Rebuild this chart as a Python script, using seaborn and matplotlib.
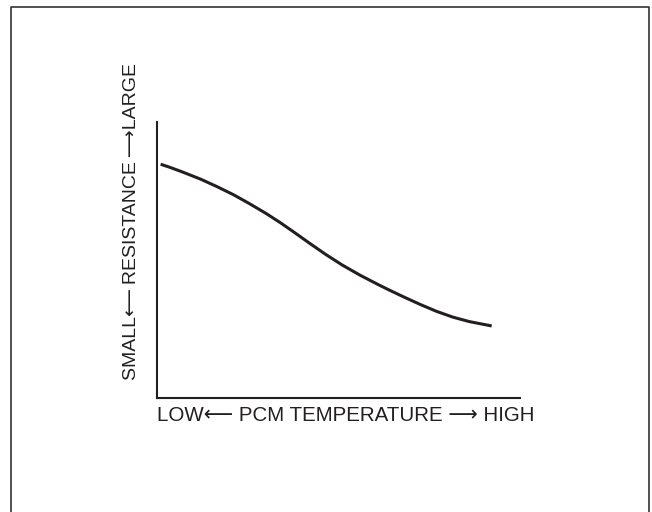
import matplotlib
matplotlib.use("Agg")
import matplotlib.pyplot as plt
from matplotlib.lines import Line2D
import seaborn as sns
import pandas as pd

# Data (normalized 0-100)
temperature = [1, 3.5, 7, 12, 16.5, 21, 25.5, 30, 34, 37.5, 42, 46.5, 51, 56,
               61, 64, 68, 72.5, 77, 81.5, 86, 92.2]
resistance = [84.7, 83.6, 81.9, 79.3, 76.6, 73.7, 70.4, 66.9, 63.5, 60.3, 56.1,
              52.0, 48.2, 44.45, 41.05, 39.1, 36.6, 33.9, 31.4, 29.3, 27.7, 26.1]
x_label = "LOW\u27f5 PCM TEMPERATURE \u27f6 HIGH"
y_label = "SMALL\u27f5\u2009RESISTANCE\u2009\u27f6LARGE"

sns.set_theme(style="white")
plt.rcParams['font.family'] = ['Liberation Sans', 'DejaVu Sans']

ink = '#231f20'
fig = plt.figure(figsize=(6.52, 5.12), dpi=100)
ax = fig.add_axes([157/652, 1-398/512, (520-157)/652, (398-122)/512])

df = pd.DataFrame({"t": temperature, "r": resistance})
sns.lineplot(data=df, x="t", y="r", ax=ax, color=ink, linewidth=2.2,
             solid_joinstyle='round', solid_capstyle='butt')

ax.set_xlim(0, 100)
ax.set_ylim(0, 100)
ax.set_xticks([])
ax.set_yticks([])
for s in ['top', 'right']:
    ax.spines[s].set_visible(False)
for s in ['left', 'bottom']:
    ax.spines[s].set_color(ink)
    ax.spines[s].set_linewidth(1.5)

ax.set_xlabel(x_label, fontsize=14.8, color=ink, ha='left', va='center')
ax.xaxis.set_label_coords(0.0, -0.062)
ax.set_ylabel(y_label, fontsize=14, color=ink, ha='center', va='center')
ax.yaxis.set_label_coords(-0.0716, 0.638)

# outer frame (left, top, right)
x0, x1 = 11/652, 649/652
y0, y1 = -0.01, 1-7/512
fig.add_artist(Line2D([x0, x0, x1, x1], [y0, y1, y1, y0], transform=fig.transFigure,
                      color='#333333', linewidth=1.2))

fig.savefig("out.png", dpi=100)
